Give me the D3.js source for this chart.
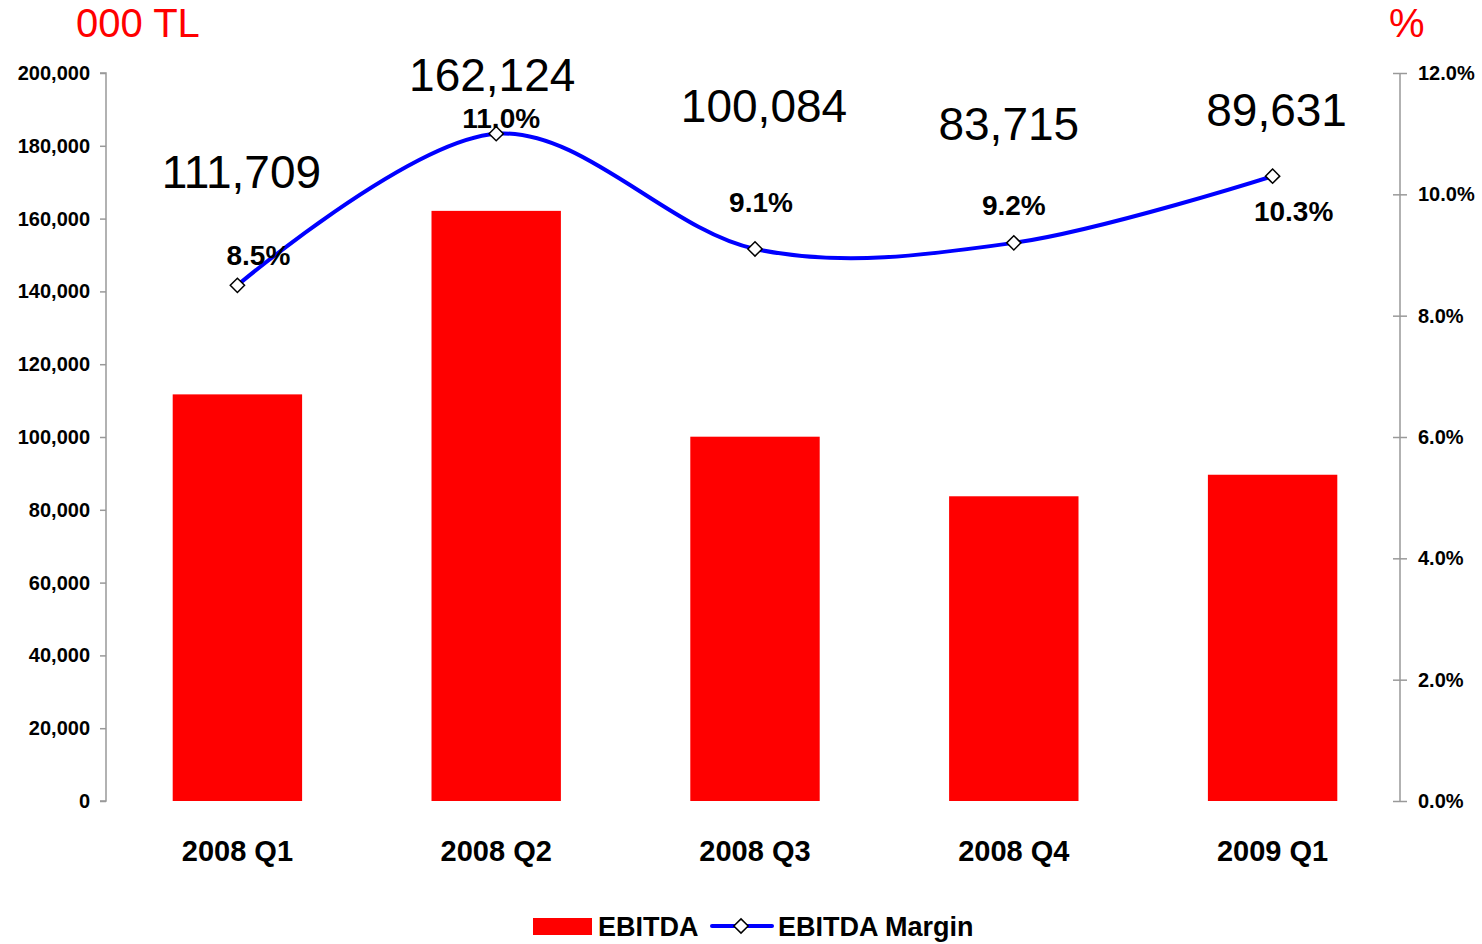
<!DOCTYPE html>
<html>
<head>
<meta charset="utf-8">
<script src="https://cdn.jsdelivr.net/npm/d3@7"></script>
<style>
  body { margin: 0; background: #fff; }
  svg text { font-family: "Liberation Sans", Arial, sans-serif; }
</style>
</head>
<body>
<div id="wrapper"></div>
<script>
// data
const categories = ["2008 Q1", "2008 Q2", "2008 Q3", "2008 Q4", "2009 Q1"]
const ebitda = [111709, 162124, 100084, 83715, 89631]
const margin = [8.5, 11.0, 9.1, 9.2, 10.3]
const leftTicks = [0, 20000, 40000, 60000, 80000, 100000, 120000, 140000, 160000, 180000, 200000]
const rightTicks = [0, 2, 4, 6, 8, 10, 12]

// label nudges (px) relative to the margin marker
const valueLabelShift = [[4, -97], [-4, -43], [9, -127], [-5, -103], [4, -50]]
const pctLabelShift = [[21, -20], [5, -6], [6, -37], [0, -28], [21, 45]]

function draw() {
  const dimensions = {
    width: 1482,
    height: 944,
    margin: { top: 73, right: 82, bottom: 143, left: 106 },
  }
  dimensions.boundedWidth = dimensions.width - dimensions.margin.left - dimensions.margin.right
  dimensions.boundedHeight = dimensions.height - dimensions.margin.top - dimensions.margin.bottom

  const wrapper = d3.select("#wrapper")
    .append("svg")
    .attr("width", dimensions.width)
    .attr("height", dimensions.height)

  const bounds = wrapper.append("g")
    .attr("transform", `translate(${dimensions.margin.left},${dimensions.margin.top})`)

  // scales
  const xScale = d3.scaleBand()
    .domain(categories)
    .range([2, dimensions.boundedWidth + 2])
    .paddingInner(0.5)
    .paddingOuter(0.25)

  const yLeft = d3.scaleLinear()
    .domain([0, 200000])
    .range([dimensions.boundedHeight, 0])

  const yRight = d3.scaleLinear()
    .domain([0, 12])
    .range([dimensions.boundedHeight, 0])

  const cx = d => xScale(d) + xScale.bandwidth() / 2

  // bars
  bounds.selectAll(".bar")
    .data(categories)
    .join("rect")
    .attr("class", "bar")
    .attr("x", d => xScale(d))
    .attr("width", xScale.bandwidth())
    .attr("y", (d, i) => yLeft(ebitda[i]))
    .attr("height", (d, i) => dimensions.boundedHeight - yLeft(ebitda[i]))
    .attr("fill", "#ff0000")

  // axes
  const leftAxis = bounds.append("g")
    .call(d3.axisLeft(yLeft).tickValues(leftTicks).tickSize(6).tickPadding(10)
      .tickFormat(d3.format(",")))
  leftAxis.selectAll("path, line").attr("stroke", "#999").attr("stroke-width", 1.5)
  leftAxis.select(".domain").attr("d", `M-6,${dimensions.boundedHeight}H0V0H-6`)
  leftAxis.selectAll("text")
    .attr("font-size", 20).attr("font-weight", "bold").attr("fill", "#000")

  const rightAxis = bounds.append("g")
    .attr("transform", `translate(${dimensions.boundedWidth},0)`)
    .call(d3.axisRight(yRight).tickValues(rightTicks).tickSize(7).tickPadding(11)
      .tickFormat(d => d3.format(".1f")(d) + "%"))
  rightAxis.selectAll("path, line").attr("stroke", "#999").attr("stroke-width", 1.5)
  rightAxis.selectAll(".tick line").attr("x1", -7)
  rightAxis.select(".domain").attr("d", `M0,${dimensions.boundedHeight}V0`)
  rightAxis.selectAll("text")
    .attr("font-size", 20).attr("font-weight", "bold").attr("fill", "#000")

  // category labels
  bounds.selectAll(".cat-label")
    .data(categories)
    .join("text")
    .attr("class", "cat-label")
    .attr("x", cx)
    .attr("y", dimensions.boundedHeight + 60)
    .attr("text-anchor", "middle")
    .attr("font-size", 29)
    .attr("font-weight", "bold")
    .text(d => d)

  // margin line
  const lineGen = d3.line()
    .x((d, i) => cx(categories[i]))
    .y(d => yRight(d))
    .curve(d3.curveCardinal.tension(0))

  bounds.append("path")
    .datum(margin)
    .attr("d", lineGen)
    .attr("fill", "none")
    .attr("stroke", "#0000ff")
    .attr("stroke-width", 4)

  const diamond = d3.symbol().type(d3.symbolDiamond2).size(130)
  bounds.selectAll(".marker")
    .data(margin)
    .join("path")
    .attr("class", "marker")
    .attr("d", diamond)
    .attr("transform", (d, i) => `translate(${cx(categories[i])},${yRight(d)})`)
    .attr("fill", "#fff")
    .attr("stroke", "#000")
    .attr("stroke-width", 1.5)

  // value labels
  bounds.selectAll(".value-label")
    .data(ebitda)
    .join("text")
    .attr("class", "value-label")
    .attr("x", (d, i) => cx(categories[i]) + valueLabelShift[i][0])
    .attr("y", (d, i) => yRight(margin[i]) + valueLabelShift[i][1])
    .attr("text-anchor", "middle")
    .attr("font-size", 46)
    .attr("fill", "#000")
    .text(d3.format(","))

  bounds.selectAll(".pct-label")
    .data(margin)
    .join("text")
    .attr("class", "pct-label")
    .attr("x", (d, i) => cx(categories[i]) + pctLabelShift[i][0])
    .attr("y", (d, i) => yRight(d) + pctLabelShift[i][1])
    .attr("text-anchor", "middle")
    .attr("font-size", 28)
    .attr("font-weight", "bold")
    .attr("fill", "#000")
    .text(d => d.toFixed(1) + "%")

  // unit titles
  wrapper.append("text")
    .attr("x", 76).attr("y", 37)
    .attr("font-size", 40).attr("fill", "#ff0000")
    .text("000 TL")
  wrapper.append("text")
    .attr("x", 1389).attr("y", 37)
    .attr("font-size", 40).attr("fill", "#ff0000")
    .text("%")

  // legend
  const legend = wrapper.append("g").attr("transform", "translate(533,926)")
  legend.append("rect")
    .attr("x", 0).attr("y", -8).attr("width", 59).attr("height", 17)
    .attr("fill", "#ff0000")
  legend.append("text")
    .attr("x", 65).attr("y", 10)
    .attr("font-size", 27).attr("font-weight", "bold")
    .text("EBITDA")
  legend.append("line")
    .attr("x1", 179).attr("x2", 239).attr("y1", 0).attr("y2", 0)
    .attr("stroke", "#0000ff").attr("stroke-width", 4).attr("stroke-linecap", "round")
  legend.append("path")
    .attr("d", diamond)
    .attr("transform", "translate(208,0)")
    .attr("fill", "#fff").attr("stroke", "#000").attr("stroke-width", 1.5)
  legend.append("text")
    .attr("x", 245).attr("y", 10)
    .attr("font-size", 27).attr("font-weight", "bold")
    .text("EBITDA Margin")
}
draw()
</script>
</body>
</html>
